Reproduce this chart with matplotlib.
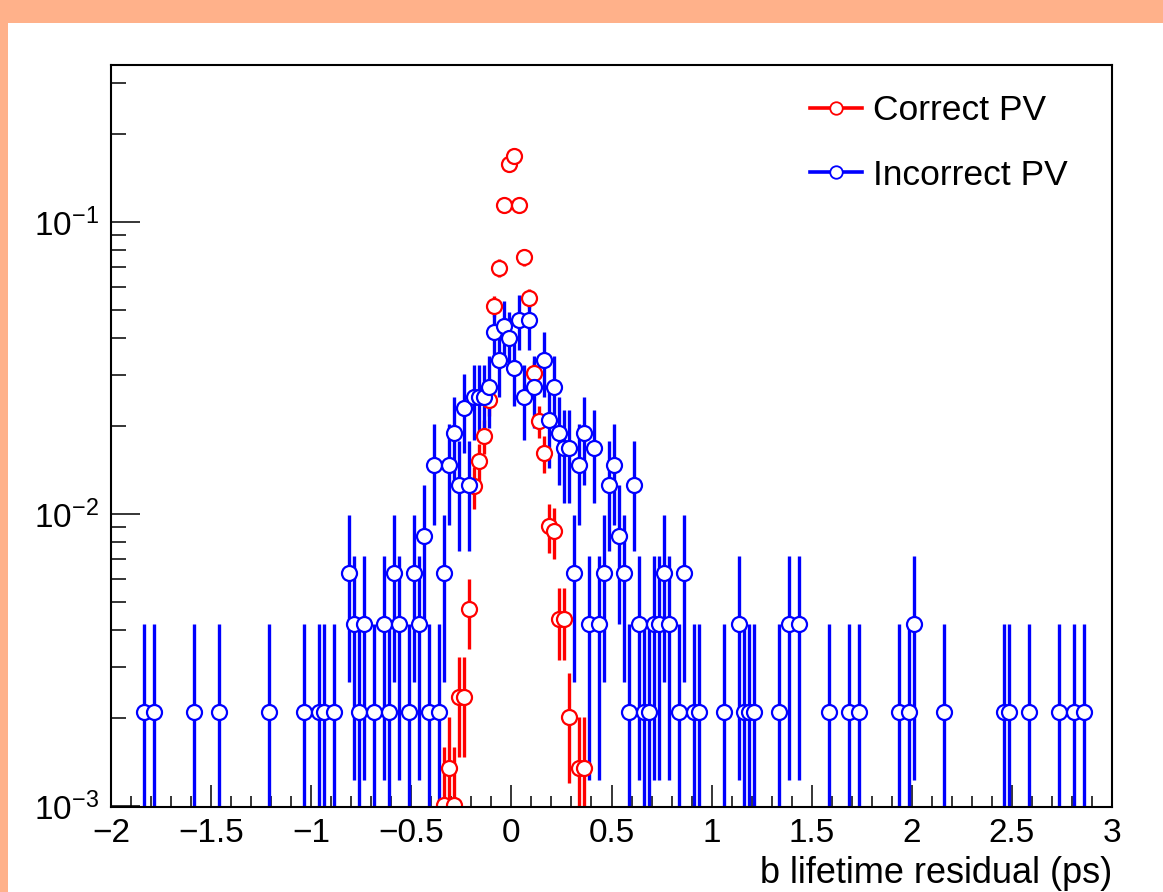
import numpy as np
import matplotlib
matplotlib.use("Agg")
import matplotlib.pyplot as plt
from matplotlib.lines import Line2D
from matplotlib.patches import Rectangle
from matplotlib.ticker import FixedLocator, LogLocator, NullFormatter, FuncFormatter, MultipleLocator

plt.rcParams['font.family'] = ['Liberation Sans', 'DejaVu Sans']
plt.rcParams['mathtext.fontset'] = 'custom'
plt.rcParams['mathtext.rm'] = 'Liberation Sans'
plt.rcParams['mathtext.it'] = 'Liberation Sans:italic'
plt.rcParams['mathtext.bf'] = 'Liberation Sans:bold'

# ---- data: bin centres (ps) and event counts per bin ----
correct_x = [-0.3375, -0.3125, -0.2875, -0.2625, -0.2375, -0.2125, -0.1875,
             -0.1625, -0.1375, -0.1125, -0.0875, -0.0625, -0.0375, -0.0125,
             0.0125, 0.0375, 0.0625, 0.0875, 0.1125, 0.1375, 0.1625, 0.1875,
             0.2125, 0.2375, 0.2625, 0.2875, 0.3375, 0.3625]
correct_counts = [3, 4, 3, 7, 7, 14, 37, 45, 55, 73, 153, 207, 340, 469,
                  499, 339, 225, 163, 90, 62, 48, 27, 26, 13, 13, 6, 4, 4]
correct_total = 2970

incorrect_x = [-1.8375, -1.7875, -1.5875, -1.4625, -1.2125, -1.0375, -0.9625,
               -0.9375, -0.8875, -0.8125, -0.7875, -0.7625, -0.7375, -0.6875,
               -0.6375, -0.6125, -0.5875, -0.5625, -0.5125, -0.4875, -0.4625,
               -0.4375, -0.4125, -0.3875, -0.3625, -0.3375, -0.3125, -0.2875,
               -0.2625, -0.2375, -0.2125, -0.1875, -0.1625, -0.1375, -0.1125,
               -0.0875, -0.0625, -0.0375, -0.0125, 0.0125, 0.0375, 0.0625,
               0.0875, 0.1125, 0.1625, 0.1875, 0.2125, 0.2375, 0.2625, 0.2875,
               0.3125, 0.3375, 0.3625, 0.3875, 0.4125, 0.4375, 0.4625, 0.4875,
               0.5125, 0.5375, 0.5625, 0.5875, 0.6125, 0.6375, 0.6625, 0.6875,
               0.7125, 0.7375, 0.7625, 0.7875, 0.8375, 0.8625, 0.9125, 0.9375,
               1.0625, 1.1375, 1.1625, 1.1875, 1.2125, 1.3375, 1.3875, 1.4375,
               1.5875, 1.6875, 1.7375, 1.9375, 1.9875, 2.0125, 2.1625, 2.4625,
               2.4875, 2.5875, 2.7375, 2.8125, 2.8625]
incorrect_counts = [1, 1, 1, 1, 1, 1, 1,
                    1, 1, 3, 2, 1, 2, 1,
                    2, 1, 3, 2, 1, 3, 2,
                    4, 1, 7, 1, 3, 7, 9,
                    6, 11, 6, 12, 12, 12, 13,
                    20, 16, 21, 19, 15, 22, 12,
                    22, 13, 16, 10, 13, 9, 8, 8,
                    3, 7, 9, 2, 8, 2, 3, 6,
                    7, 4, 3, 1, 6, 2, 1, 1,
                    2, 2, 3, 2, 1, 3, 1, 1,
                    1, 2, 1, 1, 1, 1, 2, 2,
                    1, 1, 1, 1, 1, 2, 1, 1,
                    1, 1, 1, 1, 1]
incorrect_total = 476

series_labels = ["Correct PV", "Incorrect PV"]
x_label = "b lifetime residual (ps)"

# ---- figure ----
W, H = 1163, 892
fig = plt.figure(figsize=(W / 100, H / 100), dpi=100, facecolor='#FFB18A')
fig.patches.append(Rectangle((8 / W, 0), 1 - 8 / W, 1 - 23 / H,
                             transform=fig.transFigure, facecolor='white',
                             edgecolor='none', zorder=-10))
ax = fig.add_axes([111 / W, 1 - 807 / H, (1112 - 111) / W, (807 - 65) / H])
ax.set_facecolor('white')
ax.set_zorder(5)


def draw_hist(x, counts, total, color, label):
    x = np.asarray(x, float)
    n = np.asarray(counts, float)
    y = n / total
    err = np.sqrt(n) / total
    lower = np.minimum(err, y * (1 - 1e-6))
    ax.errorbar(x, y, yerr=[lower, err], fmt='o', color=color, ms=10.8,
                mfc='white', mec=color, mew=1.6, elinewidth=2.4, capsize=0,
                label=label)


draw_hist(correct_x, correct_counts, correct_total, '#FF0000', series_labels[0])
draw_hist(incorrect_x, incorrect_counts, incorrect_total, '#0000FF', series_labels[1])

ax.set_yscale('log')
ax.set_xlim(-2, 3)
ax.set_ylim(0.000992, 0.345)

ax.xaxis.set_major_locator(MultipleLocator(0.5))
ax.xaxis.set_minor_locator(MultipleLocator(0.1))
ax.xaxis.set_major_formatter(FuncFormatter(
    lambda v, p: ('%g' % v).replace('-', '\u2212')))
ax.yaxis.set_major_locator(FixedLocator([1e-3, 1e-2, 1e-1]))
ax.yaxis.set_minor_locator(LogLocator(base=10, subs=np.arange(2, 10)))
ax.yaxis.set_minor_formatter(NullFormatter())
ax.yaxis.set_major_formatter(FuncFormatter(
    lambda v, p: r'$10^{%d}$' % int(round(np.log10(v)))))

ax.tick_params(axis='x', which='major', direction='in', length=16, width=1.1,
               labelsize=24, pad=8, top=False)
ax.tick_params(axis='x', which='minor', direction='in', length=8, width=1.1,
               top=False)
ax.tick_params(axis='y', which='major', direction='in', length=21, width=1.1,
               labelsize=24, pad=9, right=False)
ax.tick_params(axis='y', which='minor', direction='in', length=10.5,
               width=1.1, right=False)
for s in ax.spines.values():
    s.set_linewidth(1.5)
    s.set_color('black')

ax.set_xlabel(x_label, fontsize=26, loc='right', labelpad=5)

handles = [Line2D([0], [0], color='#FF0000', lw=2.6, marker='o', ms=9,
                  mfc='white', mec='#FF0000', mew=1.3),
           Line2D([0], [0], color='#0000FF', lw=2.6, marker='o', ms=9,
                  mfc='white', mec='#0000FF', mew=1.3)]
ax.legend(handles, series_labels, loc='upper left',
          bbox_to_anchor=(0.698, 0.961), frameon=False, fontsize=25.5,
          handlelength=1.48, handletextpad=0.31, labelspacing=0.9,
          borderpad=0, borderaxespad=0)

fig.savefig('out.png', dpi=100, facecolor=fig.get_facecolor())
